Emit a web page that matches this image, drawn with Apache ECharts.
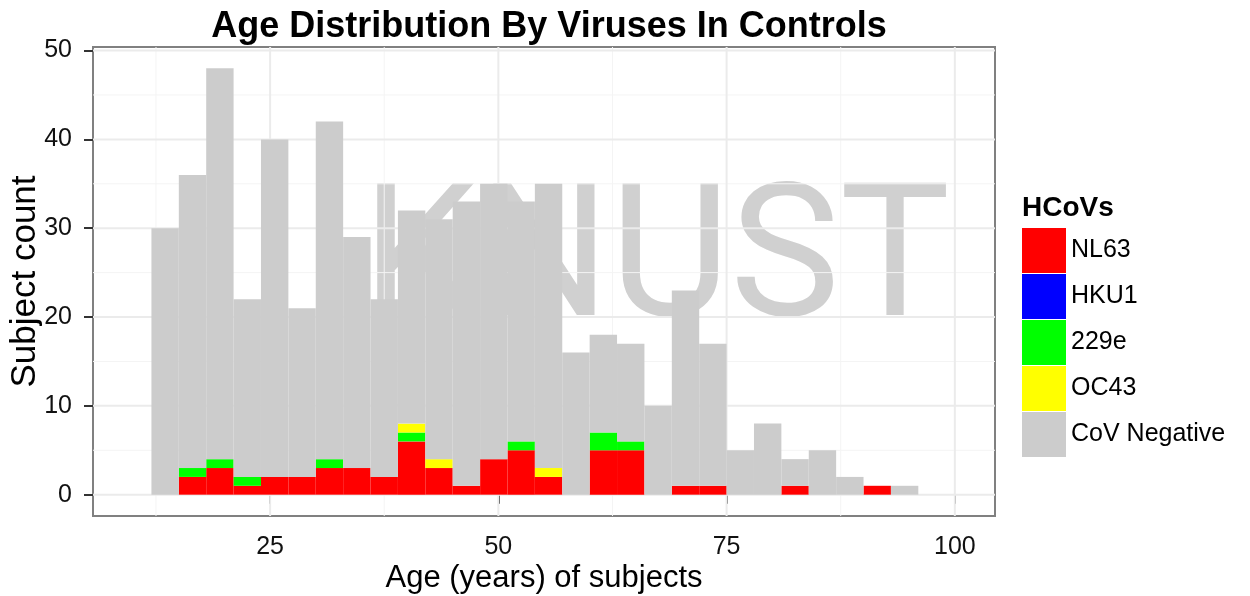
<!DOCTYPE html>
<html>
<head>
<meta charset="utf-8">
<title>Age Distribution By Viruses In Controls</title>
<script src="https://cdn.jsdelivr.net/npm/echarts@6/dist/echarts.min.js"></script>
<style>
html,body{margin:0;padding:0;background:#fff;}
#chart{width:1250px;height:596px;}
</style>
</head>
<body>
<div id="chart"></div>
<script>
//histogram bin edges (years), 3 year bins
var binEdges = [12,15,18,21,24,27,30,33,36,39,42,45,48,51,54,57,60,63,66,69,72,75,78,81,84,87,90,93,96];
//counts per bin, stacked bottom to top in this order
var nl63     = [0,2,3,1,2,2,3,3,2,6,3,1,4,5,2,0,5,5,0,1,1,0,0,1,0,0,1,0];
var hku1     = [0,0,0,0,0,0,0,0,0,0,0,0,0,0,0,0,0,0,0,0,0,0,0,0,0,0,0,0];
var hcov229e = [0,1,1,1,0,0,1,0,0,1,0,0,0,1,0,0,2,1,0,0,0,0,0,0,0,0,0,0];
var oc43     = [0,0,0,0,0,0,0,0,0,1,1,0,0,0,1,0,0,0,0,0,0,0,0,0,0,0,0,0];
var covNeg   = [30,33,44,20,38,19,38,26,20,24,27,32,31,27,32,16,11,11,10,22,16,5,8,3,5,2,0,1];
//axis ticks and grid lines
var xTicks = [25,50,75,100];
var yTicks = [0,10,20,30,40,50];
var xMinor = [12.5,37.5,62.5,87.5];
var yMinor = [5,15,25,35,45];

var groups = [
    {name:'NL63', color:'#ff0000', values:nl63},
    {name:'HKU1', color:'#0000ff', values:hku1},
    {name:'229e', color:'#00ff00', values:hcov229e},
    {name:'OC43', color:'#ffff00', values:oc43},
    {name:'CoV Negative', color:'#cccccc', values:covNeg}
];
var fontName = 'Liberation Sans, Arial, sans-serif';

//bar rectangles through the axes
function renderBin(params, api) {
    var lo = api.value(2), hi = api.value(3);
    if (hi <= lo) return null;
    var p0 = api.coord([api.value(0), hi]);
    var p1 = api.coord([api.value(1), lo]);
    return {
        type: 'rect',
        shape: {x: p0[0], y: p0[1], width: p1[0] - p0[0], height: p1[1] - p0[1]},
        style: api.style()
    };
}
//grid lines (dir 0 = vertical, 1 = horizontal)
function gridRender(lineW) {
    return function (params, api) {
        var cs = params.coordSys;
        var v = api.value(0), dir = api.value(1);
        var shape;
        if (dir == 0) {
            var px = api.coord([v, 0])[0];
            shape = {x1: px, y1: cs.y, x2: px, y2: cs.y + cs.height};
        } else {
            var py = api.coord([10, v])[1];
            shape = {x1: cs.x, y1: py, x2: cs.x + cs.width, y2: py};
        }
        return {type: 'line', shape: shape, style: {stroke: api.visual('color'), lineWidth: lineW}};
    };
}

var base = binEdges.slice(1).map(function () { return 0; });
var series = [];
for (var g = 0; g < groups.length; g++) {
    var data = [];
    for (var i = 0; i < groups[g].values.length; i++) {
        var lo = base[i];
        var hi = lo + groups[g].values[i];
        data.push([binEdges[i], binEdges[i + 1], lo, hi]);
        base[i] = hi;
    }
    series.push({
        name: groups[g].name,
        type: 'custom',
        renderItem: renderBin,
        itemStyle: {color: groups[g].color},
        encode: {x: [0, 1], y: [2, 3]},
        data: data,
        z: 3,
        silent: true
    });
}
var majorData = xTicks.map(function (v) { return [v, 0]; }).concat(yTicks.map(function (v) { return [v, 1]; }));
var minorData = xMinor.map(function (v) { return [v, 0]; }).concat(yMinor.map(function (v) { return [v, 1]; }));
series.push({name: 'gridMinor', type: 'custom', renderItem: gridRender(1), itemStyle: {color: '#f4f4f4'}, data: minorData, z: 1, silent: true, clip: false});
series.push({name: 'gridMajor', type: 'custom', renderItem: gridRender(2), itemStyle: {color: '#ebebeb'}, data: majorData, z: 2, silent: true, clip: false});

var chart = echarts.init(document.getElementById('chart'));
var option = {
    animation: false,
    textStyle: {fontFamily: fontName},
    title: {
        text: 'Age Distribution By Viruses In Controls',
        left: 544,
        top: 4,
        textAlign: 'center',
        textStyle: {fontSize: 36, fontWeight: 'bold', color: '#000', fontFamily: fontName}
    },
    grid: {
        left: 93, right: 255, top: 47, bottom: 80,
        outerBoundsMode: 'none',
        containLabel: false,
        show: true, borderColor: '#808080', borderWidth: 2, backgroundColor: 'transparent'
    },
    legend: {
        orient: 'vertical',
        left: 1022,
        top: 228,
        padding: 0,
        itemWidth: 44,
        itemHeight: 45,
        itemGap: 1,
        icon: 'rect',
        selectedMode: false,
        data: groups.map(function (d) { return d.name; }),
        textStyle: {fontSize: 25, color: '#000', fontFamily: fontName, padding: [3, 0, 0, 0]}
    },
    graphic: [
        {
            type: 'text', left: 362, top: 176, z: 0, silent: true,
            style: {text: 'KNUST', fontSize: 185, fontFamily: 'Roboto', fontWeight: 'normal', fill: '#d0d0d0'}
        },
        {
            type: 'text', left: 1022, top: 194, silent: true,
            style: {text: 'HCoVs', fontSize: 28, fontWeight: 'bold', fontFamily: fontName, fill: '#000'}
        }
    ],
    xAxis: {
        type: 'value',
        min: 5.6,
        max: 104.4,
        name: 'Age (years) of subjects',
        nameLocation: 'middle',
        nameGap: 47,
        nameMoveOverlap: false,
        nameTextStyle: {fontSize: 31, color: '#000', fontFamily: fontName},
        axisLine: {show: false},
        axisTick: {show: true, length: 9, lineStyle: {color: '#333', width: 2}, customValues: xTicks},
        axisLabel: {fontSize: 25, color: '#111', margin: 19, customValues: xTicks},
        splitLine: {show: false}
    },
    yAxis: {
        type: 'value',
        min: -2.4,
        max: 50.4,
        name: 'Subject count',
        nameLocation: 'middle',
        nameGap: 50,
        nameMoveOverlap: false,
        nameTextStyle: {fontSize: 35, color: '#000', fontFamily: fontName},
        axisLine: {show: false},
        axisTick: {show: true, length: 9, lineStyle: {color: '#333', width: 2}, customValues: yTicks},
        axisLabel: {fontSize: 25, color: '#111', margin: 21, customValues: yTicks},
        splitLine: {show: false}
    },
    series: series
};
chart.setOption(option);
</script>
</body>
</html>
